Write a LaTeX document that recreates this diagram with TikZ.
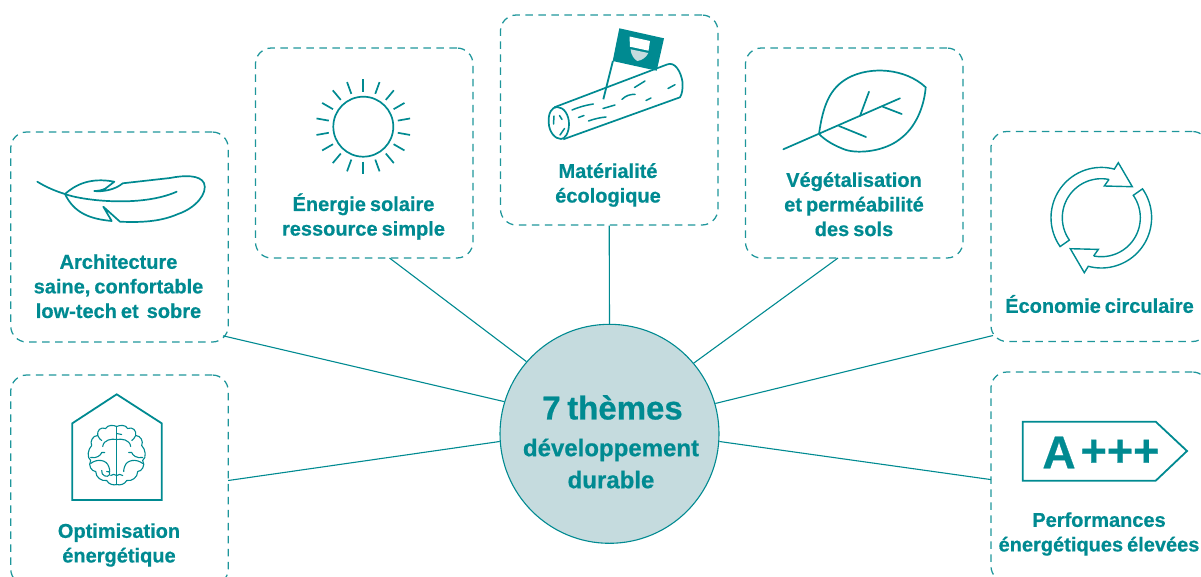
\documentclass[tikz,border=0pt]{standalone}
\usepackage{fontspec}
\setmainfont[BoldFeatures={FakeBold=0.6,WordSpace=0.72}]{Liberation Sans}
\usetikzlibrary{calc}
\definecolor{teal1}{RGB}{0,138,145}
\definecolor{dashc}{RGB}{30,150,155}
\definecolor{hubfill}{RGB}{197,219,222}
\tikzset{
  x=1pt,y=-1pt,
  tbox/.style={draw=dashc,line width=1.25pt,dash pattern=on 7.5pt off 5.5pt,rectangle,rounded corners=16pt,minimum width=217.5pt,minimum height=210pt,inner sep=0pt},
  lab/.style={text=teal1,font=\bfseries\fontsize{20}{24.6}\selectfont,align=center,inner sep=0pt},
  link/.style={draw=teal1,line width=1.1pt},
  icon/.style={draw=teal1,line width=1.7pt,line join=miter},
  thin icon/.style={draw=teal1,line width=1.1pt,line cap=round,line join=round},
  dash icon/.style={draw=teal1,line width=1.5pt,line cap=round,line join=round},
}
\newcommand{\cyclearrow}{%
  \draw[icon,line width=1.4pt] plot[domain=215:75,samples=40] ({50.3*cos(\x)},{-50.3*sin(\x)}) -- (17,-55) -- (31,-31) -- (3,-31.7) -- (7.7,-38.3)
   -- plot[domain=78.7:215,samples=40] ({39*cos(\x)},{-39*sin(\x)}) -- cycle;}
\newcommand{\hemi}{%
  \draw[thin icon]
   (0,-29) .. controls (-3,-30.5) and (-9,-31) .. (-11,-27)
   .. controls (-16,-29) and (-20,-25) .. (-19,-20)
   .. controls (-24,-20) and (-27,-14) .. (-25,-10)
   .. controls (-29,-6) and (-30,2) .. (-26,5)
   .. controls (-29,10) and (-25,16) .. (-21,16)
   .. controls (-21,22) and (-15,26) .. (-10,25)
   .. controls (-8,29) and (-3,30) .. (0,29);
  \draw[thin icon] (0,-16) .. controls (-5,-17) and (-13,-16) .. (-14,-9);
  \draw[thin icon] (-19,-20) .. controls (-18,-17) and (-16,-16) .. (-15,-15);
  \draw[thin icon] (-26,2) .. controls (-20,3) and (-16,0) .. (-15,-3) -- (-12,-3);
  \draw[thin icon] (-26,8) .. controls (-20,3) and (-10,4) .. (-8,11) .. controls (-7,13) and (-7,15) .. (-7,16);
  \draw[thin icon] (0,20) .. controls (-2,18) and (-4,19) .. (-6,20);
}
\begin{document}
\begin{tikzpicture}[x=1pt,y=-1pt]
\clip (0,0) rectangle (1201,576);
% hub
\node[circle,draw=teal1,fill=hubfill,line width=1.1pt,minimum size=219pt,inner sep=0pt] (hub) at (609.5,433.8) {};
% boxes
\node[tbox] (arch) at (119.5,237) {};
\node[tbox] (sol) at (364.2,153) {};
\node[tbox] (mat) at (609.2,120) {};
\node[tbox] (veg) at (854.2,153) {};
\node[tbox] (eco) at (1099.7,236.5) {};
\node[tbox] (opt) at (119.5,480) {};
\node[tbox] (perf) at (1099.7,477) {};
% ports
\coordinate (parch) at (223,335.8);
\coordinate (psol) at (389.5,258);
\coordinate (pveg) at (838,258);
\coordinate (peco) at (993,335.5);
\coordinate (pperf) at (991,479.6);
\coordinate (popt) at (228.2,480.5);
\draw[link] (parch) -- (hub.163);
\draw[link] (psol) -- (hub.139.6);
\draw[link] (mat.south) -- (hub.north);
\draw[link] (pveg) -- (hub.40);
\draw[link] (peco) -- (hub.16.9);
\draw[link] (pperf) -- (hub.-4);
\draw[link] (popt) -- (hub.184);
% labels
\node[lab] (larch) at (118.5,286.2) {Architecture\\saine, confortable\\low-tech et~ sobre};
\node[lab] (lsol) at (363.5,216.5) {Énergie solaire\\ressource simple};
\node[lab] (lmat) at (608,185) {Matérialité\\écologique};
\node[lab] (lveg) at (854,204.2) {Végétalisation\\et perméabilité\\des sols};
\node[lab] (leco) at (1099.5,304) {Économie circulaire};
\node[lab] (lopt) at (119,545) {Optimisation\\énergétique};
\node[lab] (lperf) at (1099,534) {Performances\\énergétiques élevées};
\node[lab,font=\bfseries\fontsize{33}{33}\selectfont] (t1) at (612.5,407.5) {7 thèmes};
\node[lab,font=\bfseries\fontsize{24}{32}\selectfont] (t2) at (611,463.5) {développement\\durable};
% feather
\draw[icon,line cap=round,line join=round]
 (37.3,181.7) .. controls (46,187) and (55,191) .. (65,194)
 .. controls (80,200) and (140,208) .. (176.7,191.7);
\draw[icon,line cap=round,line join=round]
 (65,194) .. controls (75,185) and (90,177) .. (114.3,181.7) -- (105.5,188.5) .. controls (103,190) and (98,191) .. (94.3,191)
 .. controls (102,192) and (115,190) .. (122.7,183.3) -- (170,178) .. controls (185,175) and (200,175) .. (204,183)
 .. controls (208,193) and (196,208) .. (178,214) .. controls (160,222) and (140,222.5) .. (120,221.7)
 -- (103.3,206.7) -- (111.7,221) .. controls (90,219) and (74,213) .. (65,194);
% sun
\draw[icon] (363.3,126.7) circle[radius=30];
\foreach \a in {0,20,...,340}
  \draw[icon] ({363.3+35*cos(\a+90)},{126.7+35*sin(\a+90)}) -- ({363.3+47.5*cos(\a+90)},{126.7+47.5*sin(\a+90)});
% log
\draw[icon,line join=round] (554.3,107.3) -- (667,64.5) .. controls (675,61) and (681,72) .. (682.5,82) .. controls (683,89) and (682,94) .. (680,97.3) -- (563.3,139.3);
\draw[icon] (548.7,122.5) .. controls (548,113) and (552,107) .. (557,107) .. controls (564,107) and (569,115) .. (569,124) .. controls (569,133) and (565,139) .. (561,139) .. controls (555,139) and (549,132) .. (548.7,122.5);
\draw[dash icon] (572,110) .. controls (578,107.5) and (584,105.5) .. (593.3,104);
\draw[dash icon] (578.5,117.5) -- (584,115.5);
\draw[dash icon] (588.5,121) .. controls (594,119) and (600,117.5) .. (606,117);
\draw[dash icon] (603,108.5) -- (615,105);
\draw[dash icon] (622,99.3) .. controls (626,95.5) and (630,94.3) .. (635,94.3);
\draw[dash icon] (646,100.5) -- (651,98);
\draw[dash icon] (634.5,87.5) -- (645,81);
\draw[dash icon] (668,88.5) -- (675,84.7);
\draw[dash icon] (554,116) -- (553.5,124);
\draw[dash icon] (559.5,115.5) -- (562,119.5);
\draw[dash icon] (560,135) -- (564.5,128.5);
% flag
\fill[teal1] (619.3,28.3) -- (664,38.3) -- (656.7,70.7) -- (612.7,61) -- cycle;
\draw[teal1,line width=1.8pt] (612.9,61) -- (603.3,99.3);
\fill[white] (629.5,36.5) -- (650,41) -- (648.5,50.7) -- (630,46.7) -- cycle;
\fill[hubfill] (630.6,49.3) -- (648.3,53) .. controls (646.5,57) and (642,60.5) .. (637.3,61) .. controls (634,59) and (631,55) .. (630.6,49.3) -- cycle;
% leaf
\draw[icon,line cap=round] (783.3,149.3) -- (900,98.3);
\draw[icon,line cap=round] (860,116) -- (869,91.7);
\draw[icon,line cap=round] (882.7,106.7) -- (901.7,114);
\draw[icon,line cap=round] (839,126) -- (866,137);
\draw[icon,line join=round] (819,134) .. controls (823,105) and (830,88) .. (848,78) .. controls (870,66) and (905,68) .. (925.7,87.3)
 .. controls (924,108) and (915,128) .. (900,139) .. controls (885,151) and (860,154) .. (846,150) .. controls (835,146) and (826,141) .. (819,134);
% cycle
\begin{scope}[shift={(1101.3,217.7)}] \cyclearrow \end{scope}
\begin{scope}[shift={(1101.3,217.7)},rotate=180] \cyclearrow \end{scope}
% house
\draw[icon,line width=1.8pt] (116.7,394.3) -- (161.7,423.3) -- (161.7,500) -- (72.3,500) -- (72.3,423.3) -- cycle;
\begin{scope}[shift={(116.7,455.5)}]
  \hemi
  \begin{scope}[xscale=-1] \hemi \end{scope}
  \draw[thin icon] (0,-29) -- (0,29);
  \draw[thin icon] (-15,15) .. controls (-16,20) and (-9,23) .. (-7,19) .. controls (-6,17) and (-8,15) .. (-10,16);
  \draw[thin icon] (0,-22) -- (5,-21);
\end{scope}
% energy tag
\draw[icon,line width=1.8pt] (1022.7,421.7) -- (1155.7,421.7) -- (1187,451) -- (1155.7,480.7) -- (1022.7,480.7) -- cycle;
\node[lab,font=\bfseries\fontsize{46}{46}\selectfont] (tagA) at (1059,452.5) {A};
\node[lab,font=\bfseries\fontsize{45}{45}\selectfont] (tagP) at (1120,453) {+++};
\end{tikzpicture}
\end{document}
